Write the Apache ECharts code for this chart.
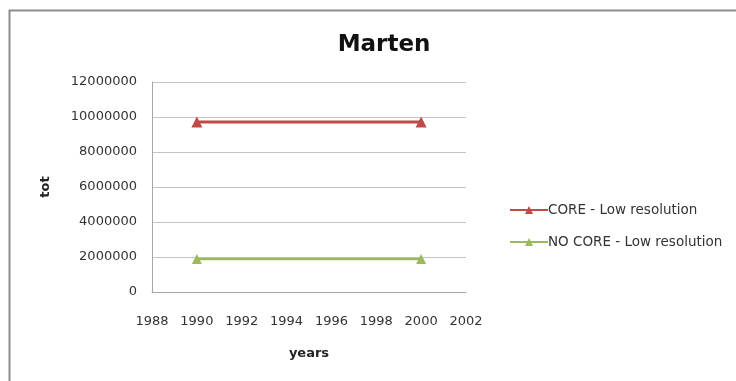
<!DOCTYPE html>
<html><head><meta charset="utf-8">
<script src="https://cdn.jsdelivr.net/npm/echarts@6/dist/echarts.min.js"></script>
<style>html,body{margin:0;padding:0;background:#fff}#c{width:736px;height:381px}</style>
</head><body><div id="c"></div>
<script>
const years = [1990, 2000];
const coreValues = [9720000, 9720000];
const noCoreValues = [1890000, 1890000];
const seriesNames = ['CORE - Low resolution', 'NO CORE - Low resolution'];
const FONT = 'DejaVu Sans';
const chart = echarts.init(document.getElementById('c'), null, {renderer: 'canvas'});
chart.setOption({
  animation: false,
  backgroundColor: '#fff',
  title: {text: 'Marten', left: 379, top: 29, textAlign: 'center',
    textStyle: {fontFamily: FONT, fontSize: 23, fontWeight: 'bold', color: '#111'}},
  graphic: [{type: 'rect', shape: {x: 9.5, y: 10.5, width: 760, height: 400},
    style: {fill: 'none', stroke: '#8c8c8c', lineWidth: 2}, silent: true}],
  grid: {left: 152, right: 270, top: 82, bottom: 89},
  legend: {orient: 'vertical', left: 504, top: 198, itemWidth: 38, itemHeight: 10, itemGap: 18,
    textStyle: {fontFamily: FONT, fontSize: 13.5, color: '#333', padding: [0,0,0,-5]},
    data: seriesNames},
  xAxis: {type: 'value', min: 1988, max: 2002, interval: 2,
    name: 'years', nameLocation: 'middle', nameGap: 55,
    nameTextStyle: {fontFamily: FONT, fontSize: 13, fontWeight: 'bold', color: '#222'},
    axisLine: {show: true, lineStyle: {color: '#a6a6a6'}}, axisTick: {show: false},
    splitLine: {show: false},
    axisLabel: {fontFamily: FONT, fontSize: 13, color: '#333', margin: 23, formatter: v => String(v)}},
  yAxis: {type: 'value', min: 0, max: 12000000, interval: 2000000,
    name: 'tot', nameLocation: 'middle', nameGap: 100, nameRotate: 90,
    nameTextStyle: {fontFamily: FONT, fontSize: 13, fontWeight: 'bold', color: '#222'},
    axisLine: {show: true, lineStyle: {color: '#a6a6a6'}}, axisTick: {show: false},
    splitLine: {lineStyle: {color: '#c4c4c4'}},
    axisLabel: {fontFamily: FONT, fontSize: 13, color: '#333', margin: 15, formatter: v => String(v)}},
  series: [
    {name: seriesNames[0], type: 'line', data: years.map((y,i)=>[y, coreValues[i]]),
      symbol: 'triangle', symbolSize: 11, color: '#be4b48', lineStyle: {width: 3, color: '#be4b48'}},
    {name: seriesNames[1], type: 'line', data: years.map((y,i)=>[y, noCoreValues[i]]),
      symbol: 'triangle', symbolSize: 10, color: '#9bbb59', lineStyle: {width: 2.5, color: '#9bbb59'}}
  ]
});
</script></body></html>
